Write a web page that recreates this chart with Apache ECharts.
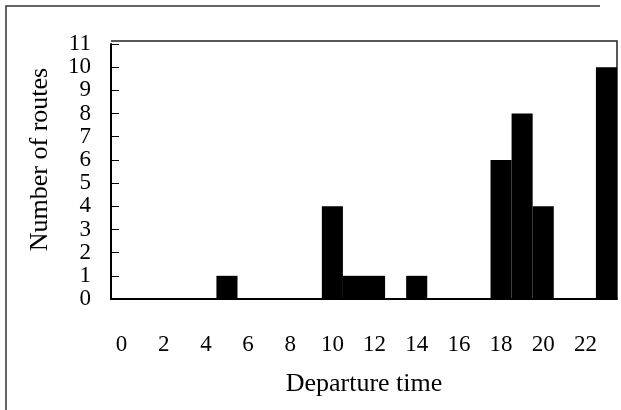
<!DOCTYPE html>
<html>
<head>
<meta charset="utf-8">
<script src="https://cdn.jsdelivr.net/npm/echarts@6/dist/echarts.min.js"></script>
<style>
html,body{margin:0;padding:0;background:#fff;}
#c{width:621px;height:410px;}
</style>
</head>
<body>
<div id="c"></div>
<script>
var categories = ['0','1','2','3','4','5','6','7','8','9','10','11','12','13','14','15','16','17','18','19','20','21','22','23'];
var routeCounts = [0,0,0,0,0,1,0,0,0,0,4,1,1,0,1,0,0,0,6,8,4,0,0,10];
var yTicks = [0,1,2,3,4,5,6,7,8,9,10,11];

var chart = echarts.init(document.getElementById('c'));
var font = 'Liberation Serif';
chart.setOption({
  backgroundColor: '#fff',
  animation: false,
  grid: {left: 111, right: 4, top: 44, bottom: 111},
  xAxis: {
    type: 'category',
    data: categories,
    name: 'Departure time',
    nameLocation: 'middle',
    nameGap: 72,
    nameTextStyle: {fontFamily: font, fontSize: 26, color: '#000'},
    axisLine: {lineStyle: {color: '#000', width: 2}},
    axisTick: {inside: true, length: 8, lineStyle: {color: '#000', width: 1}},
    axisLabel: {interval: 1, margin: 34, fontFamily: font, fontSize: 23, color: '#000'}
  },
  yAxis: {
    type: 'value',
    min: 0,
    max: yTicks[yTicks.length - 1],
    interval: 1,
    name: 'Number of routes',
    nameLocation: 'middle',
    nameGap: 58,
    nameTextStyle: {fontFamily: font, fontSize: 26, color: '#000', padding: [0, 0, 0, 24]},
    axisLine: {show: true, lineStyle: {color: '#000', width: 2}},
    axisTick: {show: true, inside: true, length: 8, lineStyle: {color: '#000', width: 1}},
    axisLabel: {margin: 20, fontFamily: font, fontSize: 23, color: '#000', showMinLabel: true, showMaxLabel: true},
    splitLine: {show: false}
  },
  series: [{
    type: 'bar',
    data: routeCounts,
    barCategoryGap: '0%',
    itemStyle: {color: '#000'}
  }],
  graphic: [
    {type: 'polyline', shape: {points: [[111, 41], [617, 41], [617, 299]]}, style: {stroke: '#222', lineWidth: 1.5, fill: null}},
    {type: 'polyline', shape: {points: [[6, 410], [6, 6], [600, 6]]}, style: {stroke: '#333', lineWidth: 1.5, fill: null}}
  ]
});
</script>
</body>
</html>
